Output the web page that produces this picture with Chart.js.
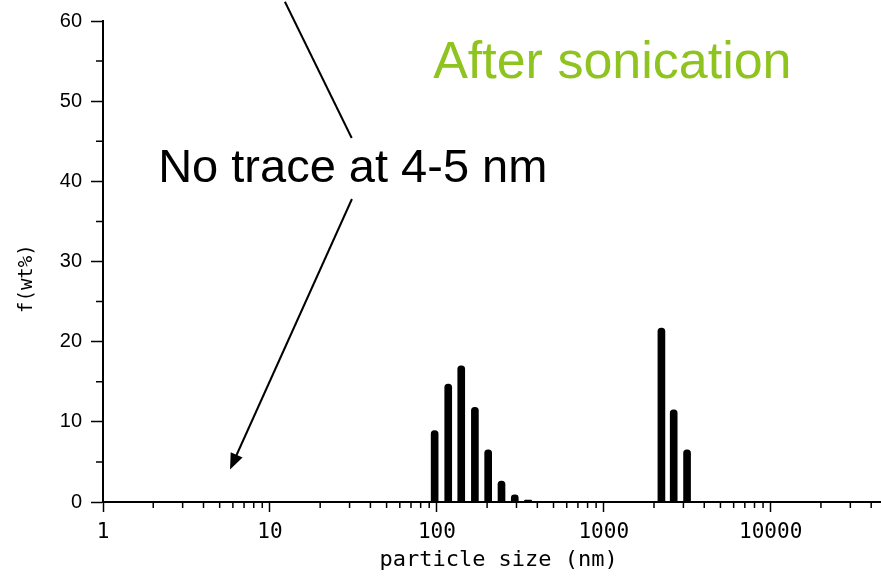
<!DOCTYPE html>
<html>
<head>
<meta charset="utf-8">
<script src="https://cdn.jsdelivr.net/npm/chart.js@4.4.1/dist/chart.umd.min.js"></script>
<style>
  html, body { margin: 0; padding: 0; background: #fff; }
  #wrap { width: 881px; height: 578px; }
</style>
</head>
<body>
<div id="wrap"><canvas id="canvas"></canvas></div>
<script>
// particle size (nm) and f(wt%)
var sizes = [97, 117, 140, 169, 203, 244, 293, 352, 2215, 2624, 3155];
var wt = [8.9, 14.7, 17.0, 11.8, 6.5, 2.6, 0.9, 0.25, 21.7, 11.5, 6.5];

var xTicks = [1, 10, 100, 1000, 10000];
var yTicks = [0, 10, 20, 30, 40, 50, 60];
var xMin = 1, xMax = 45800;

// text and arrows, in data coordinates
var notes = [
  { text: 'After sonication', x: 95, y: 52.9, color: '#8fc31f', size: 52 },
  { text: 'No trace at 4-5 nm', x: 2.14, y: 39.9, color: '#000', size: 47 }
];
var strokes = [
  { from: [12.3, 62.4], to: [30.9, 45.4], arrow: false },
  { from: [31.0, 37.8], to: [5.77, 4.06], arrow: true }
];

var points = sizes.map(function(s, i) { return { x: s, y: wt[i] }; });

var extras = {
  id: 'extras',
  afterDraw: function(chart) {
    var ctx = chart.ctx;
    var xs = chart.scales.x, ys = chart.scales.y;
    var area = chart.chartArea;
    ctx.save();
    // minor ticks
    ctx.strokeStyle = '#000';
    ctx.lineWidth = 1.5;
    ctx.beginPath();
    xTicks.forEach(function(d) {
      for (var m = 2; m <= 9; m++) {
        var v = m * d;
        if (v > xMax) break;
        var px = xs.getPixelForValue(v);
        ctx.moveTo(px, area.bottom);
        ctx.lineTo(px, area.bottom + 6);
      }
    });
    for (var i = 0; i < yTicks.length - 1; i++) {
      var py = ys.getPixelForValue((yTicks[i] + yTicks[i + 1]) / 2);
      ctx.moveTo(area.left, py);
      ctx.lineTo(area.left - 7, py);
    }
    ctx.stroke();

    // annotation lines
    ctx.lineWidth = 2;
    strokes.forEach(function(s) {
      var x1 = xs.getPixelForValue(s.from[0]), y1 = ys.getPixelForValue(s.from[1]);
      var x2 = xs.getPixelForValue(s.to[0]), y2 = ys.getPixelForValue(s.to[1]);
      var ang = Math.atan2(y2 - y1, x2 - x1);
      var head = 16, half = 6.5;
      var ex = s.arrow ? x2 - Math.cos(ang) * head * 0.8 : x2;
      var ey = s.arrow ? y2 - Math.sin(ang) * head * 0.8 : y2;
      ctx.beginPath();
      ctx.moveTo(x1, y1);
      ctx.lineTo(ex, ey);
      ctx.stroke();
      if (s.arrow) {
        var bx = x2 - Math.cos(ang) * head, by = y2 - Math.sin(ang) * head;
        ctx.beginPath();
        ctx.moveTo(x2, y2);
        ctx.lineTo(bx + Math.sin(ang) * half, by - Math.cos(ang) * half);
        ctx.lineTo(bx - Math.sin(ang) * half, by + Math.cos(ang) * half);
        ctx.closePath();
        ctx.fillStyle = '#000';
        ctx.fill();
      }
    });

    // annotation text
    ctx.textAlign = 'left';
    ctx.textBaseline = 'alphabetic';
    notes.forEach(function(n) {
      ctx.font = n.size + 'px "Liberation Sans", Arial, sans-serif';
      ctx.fillStyle = n.color;
      ctx.fillText(n.text, xs.getPixelForValue(n.x), ys.getPixelForValue(n.y));
    });
    ctx.restore();
  }
};

var config = {
  type: 'bar',
  data: {
    datasets: [{
      data: points,
      backgroundColor: '#000',
      borderWidth: 0,
      borderRadius: 4,
      barThickness: 7
    }]
  },
  options: {
    responsive: true,
    maintainAspectRatio: false,
    animation: false,
    layout: { padding: { top: 19, right: 0, left: 0, bottom: 0 } },
    plugins: {
      legend: { display: false },
      tooltip: { enabled: false }
    },
    scales: {
      x: {
        type: 'logarithmic',
        min: xMin,
        max: xMax,
        offset: false,
        afterBuildTicks: function(axis) {
          axis.ticks = xTicks.map(function(v) { return { value: v }; });
        },
        afterFit: function(axis) { axis.height = 76; },
        border: { color: '#000', width: 2 },
        grid: {
          offset: false,
          drawOnChartArea: false,
          tickLength: 10,
          tickColor: '#000',
          tickWidth: 1.5
        },
        ticks: {
          autoSkip: false,
          maxRotation: 0,
          padding: 8,
          color: '#000',
          font: { family: '"DejaVu Sans Mono", monospace', size: 21 },
          callback: function(v) { return String(v); }
        },
        title: {
          display: true,
          text: ' particle size (nm)',
          color: '#000',
          font: { family: '"DejaVu Sans Mono", monospace', size: 22 },
          padding: { top: 0, bottom: 5 }
        }
      },
      y: {
        min: 0,
        max: 60,
        afterBuildTicks: function(axis) {
          axis.ticks = yTicks.map(function(v) { return { value: v }; });
        },
        afterFit: function(axis) { axis.width = 103; },
        border: { color: '#000', width: 2 },
        grid: {
          drawOnChartArea: false,
          tickLength: 12,
          tickColor: '#000',
          tickWidth: 1.5
        },
        ticks: {
          padding: 9,
          color: '#000',
          font: { family: '"Liberation Sans", Arial, sans-serif', size: 20 }
        },
        title: {
          display: true,
          text: 'f(wt%)   ',
          color: '#000',
          font: { family: '"DejaVu Sans Mono", monospace', size: 19 },
          padding: { top: 16, bottom: 0 }
        }
      }
    }
  },
  plugins: [extras]
};

window.onload = function() {
  window.myChart = new Chart(document.getElementById('canvas'), config);
};
</script>
</body>
</html>
